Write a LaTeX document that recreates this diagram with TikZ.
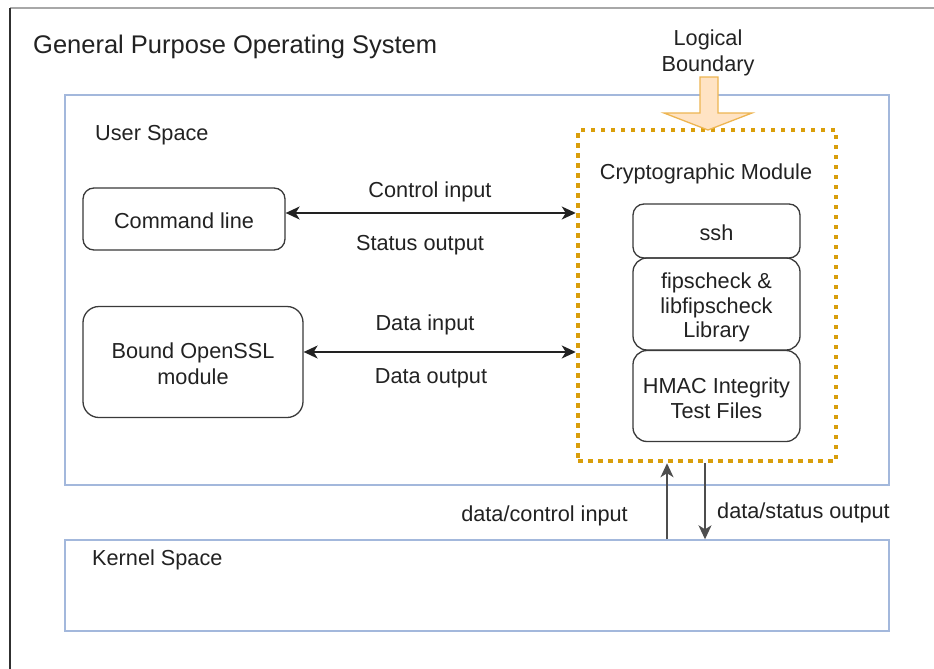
\documentclass[tikz,border=0pt]{standalone}
\usepackage{fontspec}
\setmainfont{Liberation Sans}
\usetikzlibrary{arrows.meta,calc}
\definecolor{framegray}{HTML}{A8A8A8}
\definecolor{frameleft}{HTML}{303030}
\definecolor{spaceblue}{HTML}{A3B8DC}
\definecolor{modorange}{HTML}{D99E0B}
\definecolor{arrowfill}{HTML}{FFE3C4}
\definecolor{arrowline}{HTML}{EDB552}
\definecolor{inkgray}{HTML}{3A3A3A}
\definecolor{txt}{HTML}{222222}
\tikzset{
  spacebox/.style={draw=spaceblue, line width=1.4pt, minimum width=824, minimum height=#1, inner sep=0pt},
  roundbox/.style={draw=inkgray, line width=1.3pt, rounded corners=#1, inner sep=0pt},
  modbox/.style={draw=modorange, line width=4.5pt, dash pattern=on 4.5pt off 5.5pt, inner sep=0pt},
  >={Stealth[length=14pt,width=13pt,inset=4pt]},
  link/.style={draw=txt, line width=1.5pt, <->},
  oneway/.style={draw=txt!80!white, line width=1.5pt, ->},
  lbl/.style={text=txt, inner sep=0pt, align=center}
}
\begin{document}
\begin{tikzpicture}[x=1pt,y=-1pt,font=\fontsize{21.7}{26}\selectfont]
\useasboundingbox (0,0) rectangle (934,669);
\fill[white] (0,0) rectangle (934,669);

% outer operating-system frame
\coordinate (osTL) at (10,8);
\draw[framegray, line width=1.5pt] (osTL) -- (934,8);
\draw[frameleft, line width=1.6pt] (osTL) -- (10,669);
\node[lbl, anchor=west, font=\fontsize{25.5}{30}\selectfont] (title) at (33,47) {General Purpose Operating System};

% user and kernel spaces
\node[spacebox=390] (user) at (477,290) {};
\node[lbl, anchor=west] (userlbl) at (95,135) {User Space};
\node[spacebox=91] (kernel) at (477,585.5) {};
\node[lbl, anchor=west] (kernellbl) at (92,560) {Kernel Space};

% user-space components
\node[roundbox=11pt, minimum width=202, minimum height=62] (cmd) at (184,219) {};
\node[lbl] (cmdtxt) at ([yshift=-2pt]cmd.center) {Command line};
\node[roundbox=16pt, minimum width=220, minimum height=111] (ossl) at (193,362) {};
\node[lbl] (ossltxt) at ([yshift=-2pt]ossl.center) {Bound OpenSSL\\module};

% cryptographic module boundary and its parts
\node[modbox, minimum width=258, minimum height=331] (crypto) at (707,295.5) {};
\node[lbl] (cryptolbl) at (706,174) {Cryptographic Module};
\node[roundbox=11pt, minimum width=167, minimum height=54] (ssh) at (716.5,231) {};
\node[lbl] (sshtxt) at ([yshift=-2pt]ssh.center) {ssh};
\node[roundbox=14pt, minimum width=167, minimum height=92] (fips) at (716.5,304) {};
\node[lbl, font=\fontsize{21.7}{24.5}\selectfont] (fipstxt) at ([yshift=-3.5pt]fips.center) {fipscheck \&\\libfipscheck\\Library};
\node[roundbox=14pt, minimum width=167, minimum height=91] (hmac) at (716.5,396) {};
\node[lbl, font=\fontsize{21.7}{25}\selectfont] (hmactxt) at ([yshift=-2pt]hmac.center) {HMAC Integrity\\Test Files};

% logical boundary marker
\node[lbl] (lb) at (708,53) {Logical\\Boundary};
\filldraw[fill=arrowfill, draw=arrowline, line width=1.3pt]
  (700,77) -- (718,77) -- (718,113) -- (752,113) -- (708,130) -- (664,113) -- (700,113) -- cycle;

% user-space flows
\draw[link] ([yshift=6pt]cmd.east) -- ([yshift=6pt]crypto.west |- cmd.east);
\node[lbl] (ctlin) at (430,192) {Control input};
\node[lbl] (statout) at (420,245) {Status output};
\draw[link] ([yshift=10pt]ossl.east) -- ([yshift=10pt]crypto.west |- ossl.east);
\node[lbl] (datin) at (425,325) {Data input};
\node[lbl] (datout) at (431,378) {Data output};

% kernel flows
\coordinate (upx) at (667,0);
\coordinate (downx) at (705,0);
\draw[oneway] (kernel.north -| upx) -- (crypto.south -| upx);
\draw[oneway] (crypto.south -| downx) -- (kernel.north -| downx);
\node[lbl, anchor=east] (kin) at (628,516) {data/control input};
\node[lbl, anchor=west] (kout) at (717,513) {data/status output};
\end{tikzpicture}
\end{document}
